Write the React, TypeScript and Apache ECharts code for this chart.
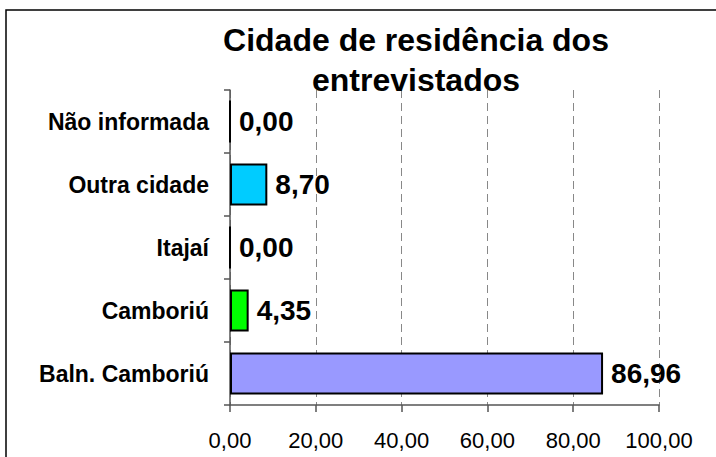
import React, { useEffect, useRef } from "react";
import * as echarts from "echarts";

const categories = ["Baln. Camboriú", "Camboriú", "Itajaí", "Outra cidade", "Não informada"];
const values = [86.96, 4.35, 0.0, 8.7, 0.0];
const barColors = ["#9999FF", "#00FF00", "#FF9900", "#00CCFF", "#CC99FF"];
const xTicks = [0, 20, 40, 60, 80, 100];
const titleText = "Cidade de residência dos\nentrevistados";

const FONT = "Arial, Liberation Sans, sans-serif";
const fmt = (v: number) => v.toFixed(2).replace(".", ",");

export default function App() {
  const ref = useRef<HTMLDivElement>(null);
  useEffect(() => {
    if (!ref.current) return;
    const chart = echarts.init(ref.current, undefined, { renderer: "svg" });
    chart.setOption({
      animation: false,
      backgroundColor: "#ffffff",
      title: {
        text: titleText,
        left: 411,
        top: 15,
        textAlign: "center",
        textStyle: {
          fontFamily: FONT,
          fontWeight: "bold",
          fontSize: 32,
          lineHeight: 40,
          color: "#000000",
        },
      },
      graphic: [
        {
          type: "rect",
          shape: { x: 6, y: 10, width: 740, height: 480 },
          style: { fill: "none", stroke: "#000000", lineWidth: 1.5 },
          silent: true,
          z: 100,
        },
      ],
      grid: { left: 230, right: 57, top: 90, bottom: 52, containLabel: false },
      xAxis: {
        type: "value",
        min: xTicks[0],
        max: xTicks[xTicks.length - 1],
        interval: 20,
        axisLine: { show: true, lineStyle: { color: "#555555", width: 1.5 } },
        axisTick: { show: true, length: 7, lineStyle: { color: "#555555", width: 1.5 } },
        axisLabel: {
          margin: 24,
          fontFamily: FONT,
          fontSize: 22,
          color: "#000000",
          formatter: (v: number) => fmt(v),
        },
        splitLine: {
          show: true,
          lineStyle: { color: "#888888", type: [8, 5], width: 1 },
        },
      },
      yAxis: {
        type: "category",
        data: categories,
        axisLine: { show: true, lineStyle: { color: "#555555", width: 1.5 } },
        axisTick: { show: true, length: 6, lineStyle: { color: "#555555", width: 1.5 } },
        axisLabel: {
          margin: 21,
          fontFamily: FONT,
          fontWeight: "bold",
          fontSize: 23,
          color: "#000000",
        },
      },
      series: [
        {
          type: "bar",
          barWidth: 42,
          data: values.map((v, i) => ({
            value: v,
            itemStyle: { color: barColors[i], borderColor: "#000000", borderWidth: 2 },
          })),
          label: {
            show: true,
            position: "right",
            distance: 8,
            fontFamily: FONT,
            fontWeight: "bold",
            fontSize: 28,
            color: "#000000",
            formatter: (p: any) => fmt(p.value),
          },
        },
      ],
    });
    return () => chart.dispose();
  }, []);
  return (
    <div
      ref={ref}
      style={{ position: "fixed", left: 0, top: 0, width: 716, height: 457, background: "#fff" }}
    />
  );
}
